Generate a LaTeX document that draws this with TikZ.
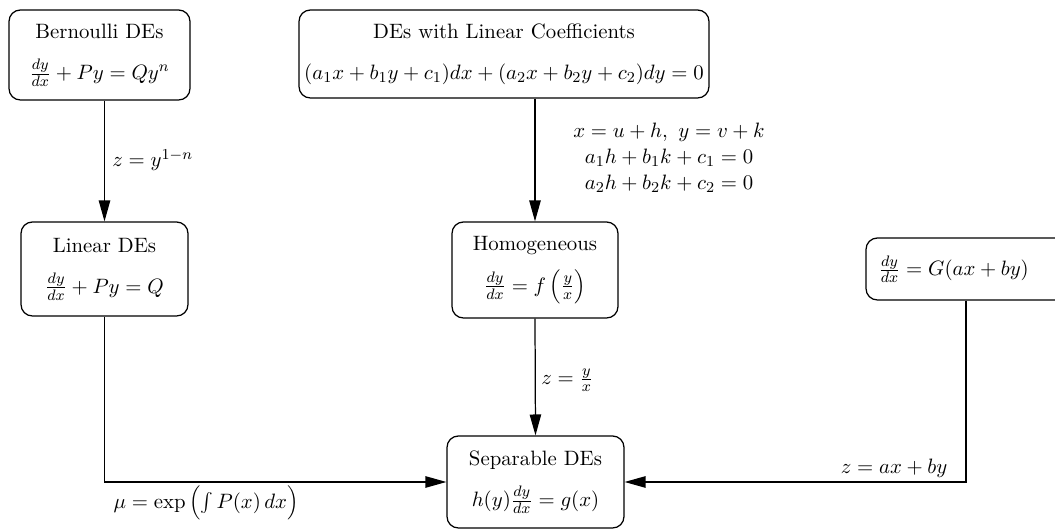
\documentclass[tikz,border=0pt]{standalone}
\usetikzlibrary{arrows.meta}
\begin{document}
\begin{tikzpicture}[x=0.01851cm,y=-0.01851cm,
  every node/.append style={font=\fontsize{10.95}{13.6}\selectfont},
  box/.style={draw, line width=0.65pt, rounded corners=6pt, align=center, inner sep=0pt},
  arr/.style={line width=0.65pt, -{Triangle[length=11pt,width=6pt]}},
  lbl/.style={inner sep=0pt, align=center}]
\useasboundingbox (0,0) rectangle (1055,531);
\node[box, minimum width=181*0.01851cm, minimum height=90*0.01851cm] (bern) at (99.5,55)
  {Bernoulli DEs\\[8pt] $\frac{dy}{dx}+Py=Qy^n$};
\node[box, minimum width=410*0.01851cm, minimum height=88*0.01851cm] (lincoef) at (504,54)
  {DEs with Linear Coefficients\\[8pt] $(a_1x+b_1y+c_1)dx+(a_2x+b_2y+c_2)dy=0$};
\node[box, minimum width=167*0.01851cm, minimum height=94*0.01851cm] (linear) at (104.5,269)
  {Linear DEs\\[8pt] $\frac{dy}{dx}+Py=Q$};
\node[box, minimum width=166*0.01851cm, minimum height=96*0.01851cm] (homog) at (535,270)
  {Homogeneous\\[7pt] $\frac{dy}{dx}=f\,\Bigl(\frac{y}{x}\Bigr)$};
\node[box, minimum width=200*0.01851cm, minimum height=62*0.01851cm] (gax) at (966,269)
  {\hspace*{-13pt}$\frac{dy}{dx}=G(ax+by)$};
\node[box, minimum width=177*0.01851cm, minimum height=92*0.01851cm] (sep) at (535.5,482)
  {Separable DEs\\[8pt] $h(y)\frac{dy}{dx}=g(x)$};
\draw[arr] (linear.north |- bern.south) -- (linear.north);
\draw[arr] (homog.north |- lincoef.south) -- (homog.north);
\draw[arr] (homog.south) -- (sep.north);
\draw[arr] (linear.south) |- (sep.west);
\draw[arr] (gax.south) |- (sep.east);
\node[lbl, anchor=west] (l1) at (112,160) {$z=y^{1-n}$};
\node[lbl] (l2) at (669,158) {$x=u+h,\ y=v+k$\\ $a_1h+b_1k+c_1=0$\\ $a_2h+b_2k+c_2=0$};
\node[lbl, anchor=west] (l3) at (541,380) {$z=\frac{y}{x}$};
\node[lbl] (l4) at (206,503) {$\mu=\exp\,\Bigl(\int P(x)\,dx\Bigr)$};
\node[lbl] (l5) at (894,468) {$z=ax+by$};
\end{tikzpicture}
\end{document}
